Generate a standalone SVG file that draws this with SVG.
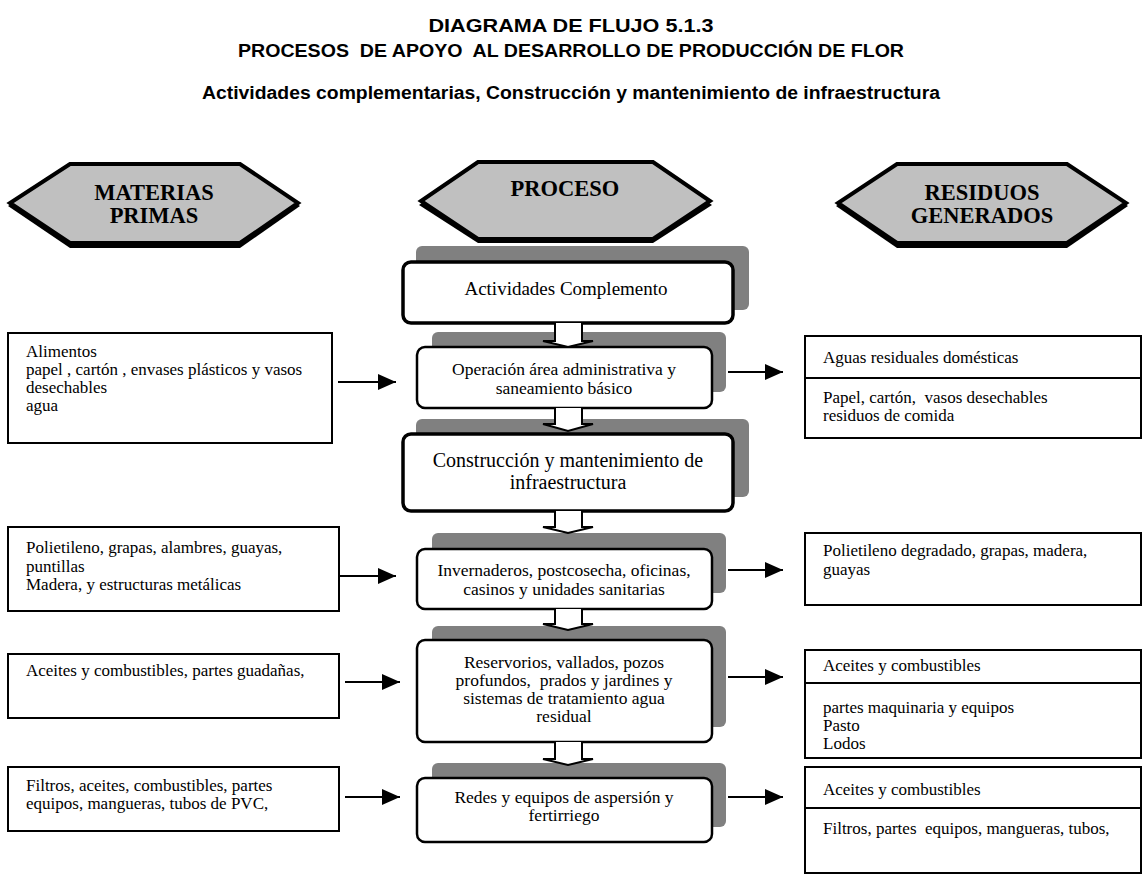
<svg xmlns="http://www.w3.org/2000/svg" width="1143" height="877" viewBox="0 0 1143 877">
<defs>
<style>
.title{font-family:"Liberation Sans",Arial,sans-serif;font-weight:bold;font-size:18px;fill:#000;text-anchor:middle;white-space:pre}
.hex{fill:#c0c0c0;stroke:#000;stroke-width:4;stroke-linejoin:miter}
.hexsh{fill:#000}
.hext{font-family:"Liberation Serif","Times New Roman",serif;font-weight:bold;font-size:22.5px;text-anchor:middle}
.sh{fill:#808080}
.pb{fill:#fff;stroke:#000;stroke-width:2.5}
.pbk{fill:#fff;stroke:#000;stroke-width:3.5}
.pt{font-family:"Liberation Serif","Times New Roman",serif;font-size:17.5px;text-anchor:middle;white-space:pre}
.ptl{font-family:"Liberation Serif","Times New Roman",serif;font-size:20px;text-anchor:middle}
.box{fill:#fff;stroke:#000;stroke-width:2}
.bt{font-family:"Liberation Serif","Times New Roman",serif;font-size:17px;white-space:pre}
.ln{stroke:#000;stroke-width:2;fill:none}
.down{fill:#fff;stroke:#000;stroke-width:2}
</style>
<marker id="ah" viewBox="0 0 18 16" refX="18" refY="8" markerWidth="18" markerHeight="16" markerUnits="userSpaceOnUse" orient="auto" preserveAspectRatio="none"><path d="M0,0 L18,8 L0,16 z" fill="#000"/></marker>
</defs>
<rect width="1143" height="877" fill="#fff"/>

<g id="titles">
<text class="title" x="571" y="32" textLength="285" lengthAdjust="spacingAndGlyphs">DIAGRAMA DE FLUJO 5.1.3</text>
<text class="title" x="571" y="57" textLength="666" lengthAdjust="spacingAndGlyphs" xml:space="preserve">PROCESOS  DE APOYO  AL DESARROLLO DE PRODUCCIÓN DE FLOR</text>
<text class="title" x="571" y="99" textLength="738" lengthAdjust="spacingAndGlyphs">Actividades complementarias, Construcción y mantenimiento de infraestructura</text>
</g>

<g id="hex-materias">
<polygon class="hexsh" points="70,166 240,166 300,206 240,248 70,248 8,206"/>
<polygon class="hex" points="70,164 240,164 298,203 240,243 70,243 10,203"/>
<text class="hext" x="154" y="200">MATERIAS</text>
<text class="hext" x="154" y="223">PRIMAS</text>
</g>
<g id="hex-proceso">
<polygon class="hexsh" points="478,164 653,164 712,205 653,243 478,243 419,205"/>
<polygon class="hex" points="478,162 653,162 710,201 653,239 478,239 421,201"/>
<text class="hext" x="565" y="196">PROCESO</text>
</g>
<g id="hex-residuos">
<polygon class="hexsh" points="897,166 1067,166 1128,206 1067,248 897,248 836,206"/>
<polygon class="hex" points="897,164 1067,164 1126,203 1067,243 897,243 838,203"/>
<text class="hext" x="982" y="200">RESIDUOS</text>
<text class="hext" x="982" y="223">GENERADOS</text>
</g>

<g id="p1">
<rect class="sh" x="416" y="246" width="333" height="64" rx="6"/>
<rect class="pbk" x="403" y="262" width="330" height="61" rx="8"/>
<text class="ptl" x="566" y="295" style="font-size:19px">Actividades Complemento</text>
</g>
<g id="p2">
<rect class="sh" x="432" y="332" width="294" height="60" rx="6"/>
<rect class="pb" x="417" y="347" width="295" height="61" rx="8"/>
<text class="pt" x="564" y="375">Operación área administrativa y</text>
<text class="pt" x="564" y="394">saneamiento básico</text>
</g>
<g id="p3">
<rect class="sh" x="416" y="419" width="333" height="78" rx="6"/>
<rect class="pbk" x="403" y="434" width="330" height="77" rx="8"/>
<text class="ptl" x="568" y="467">Construcción y mantenimiento de</text>
<text class="ptl" x="568" y="489">infraestructura</text>
</g>
<g id="p4">
<rect class="sh" x="432" y="533" width="294" height="60" rx="6"/>
<rect class="pb" x="417" y="549" width="295" height="60" rx="8"/>
<text class="pt" x="564" y="576">Invernaderos, postcosecha, oficinas,</text>
<text class="pt" x="564" y="595">casinos y unidades sanitarias</text>
</g>
<g id="p5">
<rect class="sh" x="432" y="626" width="294" height="101" rx="6"/>
<rect class="pb" x="417" y="640" width="295" height="102" rx="8"/>
<text class="pt" x="564" y="668">Reservorios, vallados, pozos</text>
<text class="pt" x="564" y="686" xml:space="preserve">profundos,  prados y jardines y</text>
<text class="pt" x="564" y="704">sistemas de tratamiento agua</text>
<text class="pt" x="564" y="722">residual</text>
</g>
<g id="p6">
<rect class="sh" x="432" y="763" width="294" height="64" rx="6"/>
<rect class="pb" x="417" y="778" width="295" height="64" rx="8"/>
<text class="pt" x="564" y="803">Redes y equipos de aspersión y</text>
<text class="pt" x="564" y="821">fertirriego</text>
</g>

<g id="in1">
<rect class="box" x="8" y="333" width="324" height="110"/>
<text class="bt" x="26" y="357">Alimentos</text>
<text class="bt" x="26" y="375">papel , cartón , envases plásticos y vasos</text>
<text class="bt" x="26" y="393">desechables</text>
<text class="bt" x="26" y="411">agua</text>
</g>
<g id="in2">
<rect class="box" x="8" y="527" width="331" height="84"/>
<text class="bt" x="26" y="553">Polietileno, grapas, alambres, guayas,</text>
<text class="bt" x="26" y="572">puntillas</text>
<text class="bt" x="26" y="590">Madera, y estructuras metálicas</text>
</g>
<g id="in3">
<rect class="box" x="8" y="654" width="331" height="64"/>
<text class="bt" x="26" y="676">Aceites y combustibles, partes guadañas,</text>
</g>
<g id="in4">
<rect class="box" x="8" y="767" width="331" height="64"/>
<text class="bt" x="26" y="791">Filtros, aceites, combustibles, partes</text>
<text class="bt" x="26" y="809">equipos, mangueras, tubos de PVC,</text>
</g>

<g id="out1">
<rect class="box" x="805" y="336" width="336" height="102"/>
<line class="ln" x1="805" y1="378" x2="1141" y2="378"/>
<text class="bt" x="823" y="363">Aguas residuales domésticas</text>
<text class="bt" x="823" y="403" xml:space="preserve">Papel, cartón,  vasos desechables</text>
<text class="bt" x="823" y="421">residuos de comida</text>
</g>
<g id="out2">
<rect class="box" x="805" y="533" width="336" height="72"/>
<text class="bt" x="823" y="556">Polietileno degradado, grapas, madera,</text>
<text class="bt" x="823" y="575">guayas</text>
</g>
<g id="out3">
<rect class="box" x="805" y="650" width="336" height="108"/>
<line class="ln" x1="805" y1="683" x2="1141" y2="683"/>
<text class="bt" x="823" y="671">Aceites y combustibles</text>
<text class="bt" x="823" y="713">partes maquinaria y equipos</text>
<text class="bt" x="823" y="731">Pasto</text>
<text class="bt" x="823" y="749">Lodos</text>
</g>
<g id="out4">
<rect class="box" x="805" y="767" width="336" height="106"/>
<line class="ln" x1="805" y1="808" x2="1141" y2="808"/>
<text class="bt" x="823" y="795">Aceites y combustibles</text>
<text class="bt" x="823" y="834" xml:space="preserve">Filtros, partes  equipos, mangueras, tubos,</text>
</g>

<g id="connectors">
<path class="down" d="M555,323 V341 H543 L568,347 L593,341 H582 V323"/>
<path class="down" d="M555,408 V424 H543 L568,431 L593,424 H582 V408"/>
<path class="down" d="M555,511 V527 H543 L568,533 L593,527 H582 V511"/>
<path class="down" d="M555,609 V624 H543 L568,630 L593,624 H582 V609"/>
<path class="down" d="M555,742 V759 H543 L568,765 L593,759 H582 V742"/>
<line class="ln" x1="338" y1="382" x2="396" y2="382" marker-end="url(#ah)"/>
<line class="ln" x1="728" y1="372" x2="783" y2="372" marker-end="url(#ah)"/>
<line class="ln" x1="339" y1="576" x2="396" y2="576" marker-end="url(#ah)"/>
<line class="ln" x1="728" y1="570" x2="783" y2="570" marker-end="url(#ah)"/>
<line class="ln" x1="345" y1="682" x2="400" y2="682" marker-end="url(#ah)"/>
<line class="ln" x1="728" y1="677" x2="783" y2="677" marker-end="url(#ah)"/>
<line class="ln" x1="345" y1="797" x2="400" y2="797" marker-end="url(#ah)"/>
<line class="ln" x1="728" y1="797" x2="783" y2="797" marker-end="url(#ah)"/>
</g>
</svg>
